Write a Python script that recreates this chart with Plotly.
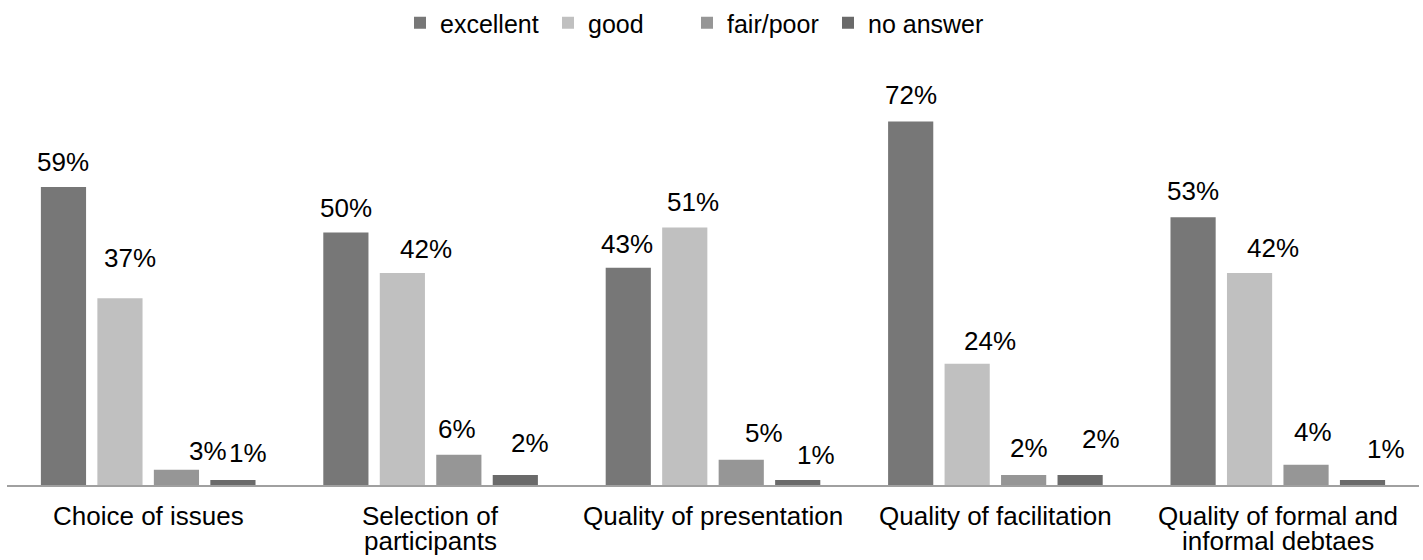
import plotly.graph_objects as go

# Survey ratings per aspect of the event (percent of respondents)
categories = [
    "Choice of issues",
    "Selection of<br>participants",
    "Quality of presentation",
    "Quality of facilitation",
    "Quality of formal and<br>informal debtaes",
]
series_names = ["excellent", "good", "fair/poor", "no answer"]
excellent = [59, 50, 43, 72, 53]
good = [37, 42, 51, 24, 42]
fair_poor = [3, 6, 5, 2, 4]
no_answer = [1, 2, 1, 2, 1]

series_values = [excellent, good, fair_poor, no_answer]
colors = ["#777777", "#c0c0c0", "#969696", "#6a6a6a"]

# pixel nudges for the value labels: horizontal shift, height above the bar top
label_dx = [[0, 0, -1, 0, 0], [10, 24, 8, 23, 23], [32, -2, 23, 5, 7], [15, 15, 18, 21, 23]]
label_dy = [[25, 25, 24, 26, 26], [40, 24, 25, 23, 25], [19, 26, 27, 27, 33], [27, 32, 25, 36, 31]]

# left edge (px) of each legend entry along the top row
legend_left = [400, 548, 687, 828]

FONT = "Liberation Sans, Arial, sans-serif"
BARGAP = 0.2
BARGROUPGAP = 0.2
n_series = len(series_names)
x_idx = list(range(len(categories)))
legend_ids = ["legend"] + [f"legend{k + 1}" for k in range(1, n_series)]

fig = go.Figure()
for k, (name, vals) in enumerate(zip(series_names, series_values)):
    fig.add_trace(go.Bar(
        x=x_idx, y=vals, name=name,
        marker=dict(color=colors[k], line_width=0),
        hoverinfo="skip",
        legend=legend_ids[k],
    ))

annotations = []
slot = (1 - BARGAP) / n_series
for k, vals in enumerate(series_values):
    offset = -(1 - BARGAP) / 2 + slot * (k + 0.5)
    for i, v in enumerate(vals):
        annotations.append(dict(
            x=i + offset, y=v, xref="x", yref="y",
            text=f"{v}%", showarrow=False,
            xanchor="center", yanchor="middle",
            xshift=label_dx[k][i], yshift=label_dy[k][i],
            font=dict(family=FONT, size=26, color="#000000"),
        ))

# category labels under the axis, one annotation per text line
LINE_STEP = 25
for i, cat in enumerate(categories):
    for j, line in enumerate(cat.split("<br>")):
        annotations.append(dict(
            x=i, y=0, xref="x", yref="paper",
            text=line, showarrow=False,
            xanchor="center", yanchor="middle",
            yshift=-31 - j * LINE_STEP,
            font=dict(family=FONT, size=26, color="#000000"),
        ))

legend_layout = {}
for k, lid in enumerate(legend_ids):
    legend_layout[lid] = dict(
        orientation="h", x=legend_left[k] / 1423, xref="container", xanchor="left",
        y=1, yref="container", yanchor="top",
        font=dict(family=FONT, size=25, color="#000000"),
        itemwidth=30, bgcolor="rgba(0,0,0,0)",
    )

fig.update_layout(
    width=1423, height=560,
    margin=dict(l=7, r=4, t=81, b=75),
    paper_bgcolor="white", plot_bgcolor="white",
    barmode="group", bargap=BARGAP, bargroupgap=BARGROUPGAP,
    font=dict(family=FONT, size=25, color="#000000"),
    showlegend=True,
    annotations=annotations,
    **legend_layout,
)
fig.update_xaxes(
    range=[-0.5, len(categories) - 0.5],
    showticklabels=False, showgrid=False, zeroline=False, ticks="",
    showline=True, linecolor="#a0a0a0", linewidth=2,
)
fig.update_yaxes(
    range=[0, 80], visible=False, showgrid=False, zeroline=False,
)

fig.write_html("out.html")
